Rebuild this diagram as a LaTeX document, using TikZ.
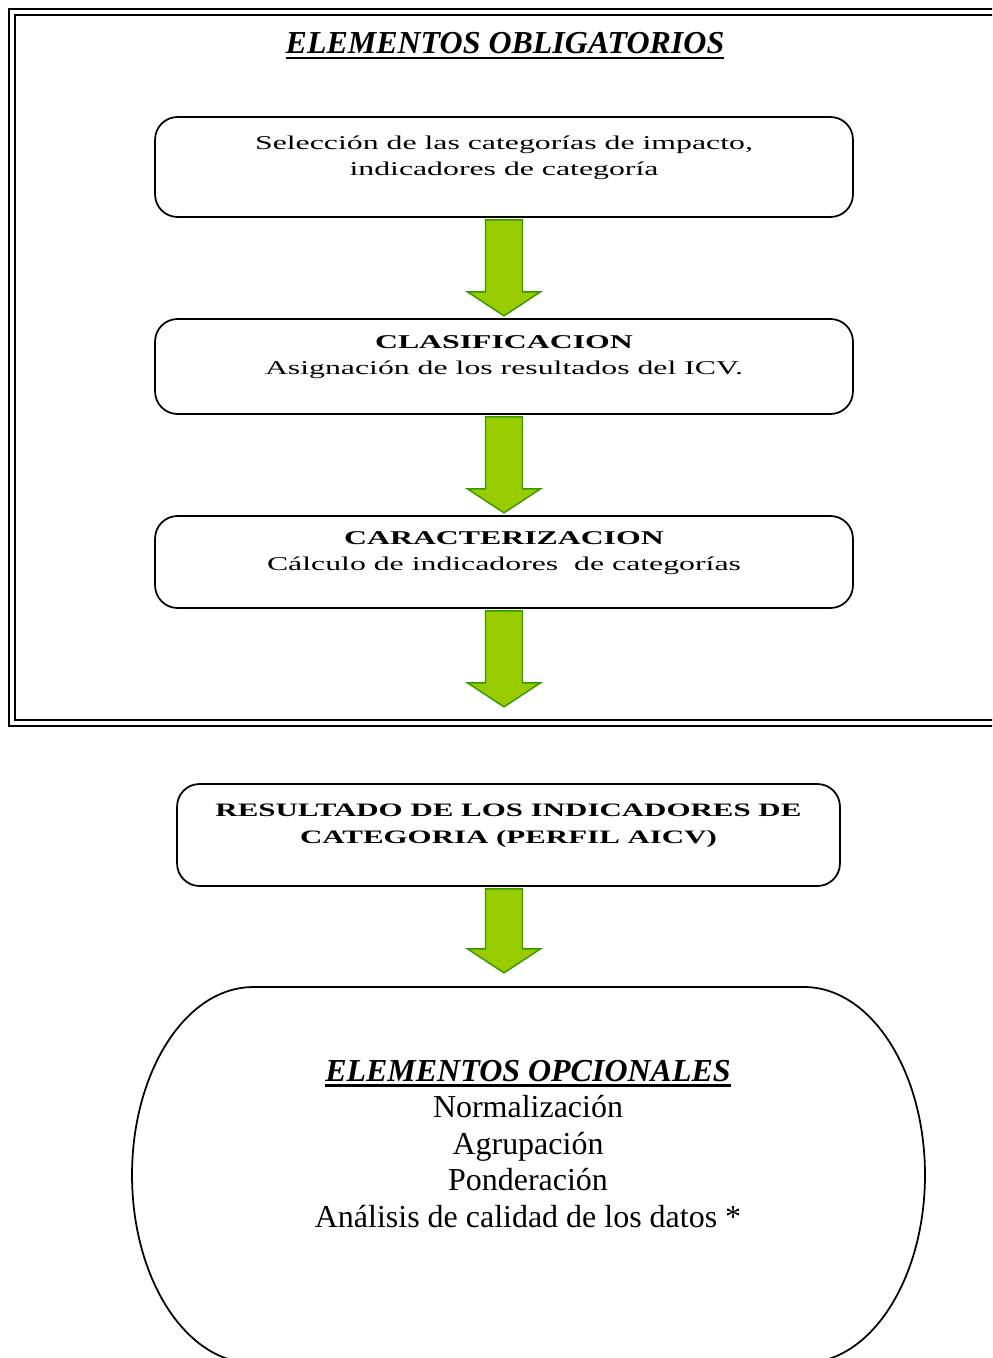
\documentclass[tikz,border=0pt]{standalone}
\usepackage{fontspec}
\setmainfont{Liberation Serif}
\newfontfamily\boxfont[FakeStretch=1.63]{Liberation Serif}
\usetikzlibrary{positioning}
\definecolor{arrowfill}{RGB}{153,204,0}
\definecolor{arrowline}{RGB}{51,153,0}
\newcommand{\thickul}[1]{\leavevmode\setbox0=\hbox{#1}\rlap{\rule[-3pt]{\wd0}{1.4pt}}\box0}
\newcommand{\greenarrow}[2]{\filldraw[blockarrow] #1 ++(-18.5,2) -- ++(0,#2) -- ++(-18,0) -- ++(36.5,24) -- ++(36.5,-24) -- ++(-18,0) -- ++(0,-#2) -- cycle;}

\begin{document}
\begin{tikzpicture}[x=0.02cm,y=-0.02cm]
            \tikzset{stepbox/.style={draw, line width=1pt, rounded corners=0.45cm, align=center, text depth=12.6pt, font=\boxfont\fontsize{11.1pt}{14.8pt}\selectfont},
                     blockarrow/.style={fill=arrowfill, draw=arrowline, line width=0.8pt}}
            \useasboundingbox (0,0) rectangle (992,1358);
            \clip (0,0) rectangle (992,1358);
            % frame
            \draw[line width=1.2pt] (9,9) rectangle (1010,726);
            \draw[line width=0.8pt] (15,15) rectangle (1004,720);
            \node (oblig) at (505,54) [anchor=base, font=\fontsize{18.2pt}{20pt}\selectfont\bfseries\itshape]{\thickul{ELEMENTOS OBLIGATORIOS}};
            \node (sel) at (504,167) [stepbox, minimum width=13.96cm, minimum height=2cm]{Selección de las categorías de impacto,\\indicadores de categoría};
            \node (clas) at (504,366.5) [stepbox, minimum width=13.96cm, minimum height=1.9cm]{\textbf{CLASIFICACION}\\Asignación de los resultados del ICV.};
            \node (car) at (504,562) [stepbox, minimum width=13.96cm, minimum height=1.84cm]{\textbf{CARACTERIZACION}\\Cálculo de indicadores\ \ de categorías};
            \node (res) at (508.5,835) [stepbox, minimum width=13.26cm, minimum height=2.04cm, font=\boxfont\fontsize{10.8pt}{15.4pt}\selectfont\bfseries]{RESULTADO DE LOS INDICADORES DE\\CATEGORIA (PERFIL AICV)};
            \greenarrow{(sel.south)}{72}
            \greenarrow{(clas.south)}{72}
            \greenarrow{(car.south)}{72}
            \greenarrow{(sel.south |- res.south)}{60}
            % optional elements
            \draw[line width=1pt] (253,987) -- (804,987) arc[start angle=90, end angle=-90, x radius=2.42cm, y radius=3.76cm] -- (253,1363) arc[start angle=270, end angle=90, x radius=2.42cm, y radius=3.76cm] -- cycle;
            \node (opt) at (528,1144) [align=center, font=\fontsize{18.2pt}{20.8pt}\selectfont]{\textbf{\textit{\thickul{ELEMENTOS OPCIONALES}}}\\Normalización\\Agrupación\\Ponderación\\Análisis de calidad de los datos *};

        \end{tikzpicture}
\end{document}
